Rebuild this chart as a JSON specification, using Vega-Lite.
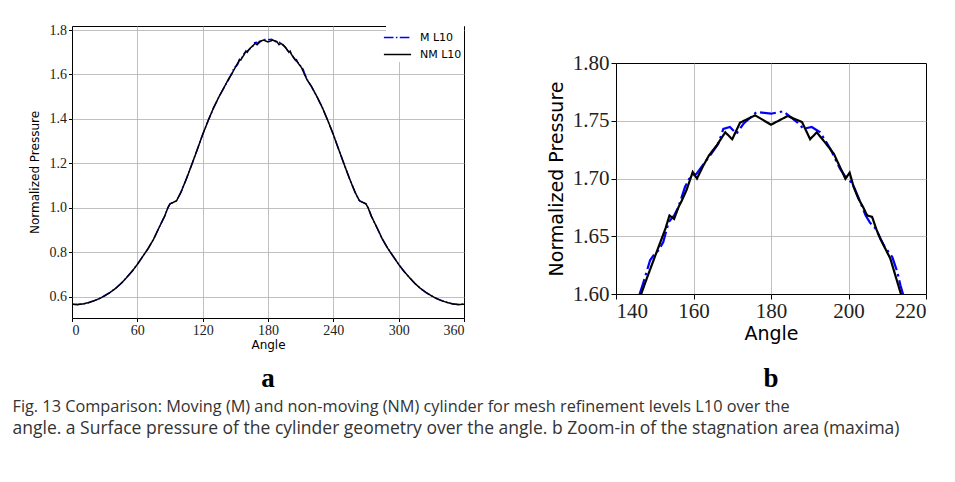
{
  "$schema": "https://vega.github.io/schema/vega-lite/v6.json",
  "background": "white",
  "padding": {"left": 12, "top": 22, "right": 0, "bottom": 0},
  "datasets": {
    "curves": [
      {"a": 0, "p": 0.567, "s": "M L10"}, {"a": 5, "p": 0.566, "s": "M L10"}, {"a": 10, "p": 0.568, "s": "M L10"}, {"a": 15, "p": 0.574, "s": "M L10"}, {"a": 20, "p": 0.582, "s": "M L10"}, {"a": 25, "p": 0.592, "s": "M L10"}, {"a": 30, "p": 0.605, "s": "M L10"}, {"a": 35, "p": 0.62, "s": "M L10"}, {"a": 40, "p": 0.638, "s": "M L10"}, {"a": 45, "p": 0.66, "s": "M L10"}, {"a": 50, "p": 0.686, "s": "M L10"}, {"a": 55, "p": 0.714, "s": "M L10"}, {"a": 60, "p": 0.746, "s": "M L10"}, {"a": 65, "p": 0.782, "s": "M L10"}, {"a": 70, "p": 0.818, "s": "M L10"}, {"a": 75, "p": 0.86, "s": "M L10"}, {"a": 80, "p": 0.912, "s": "M L10"}, {"a": 85, "p": 0.962, "s": "M L10"}, {"a": 88, "p": 1.0, "s": "M L10"}, {"a": 90, "p": 1.018, "s": "M L10"}, {"a": 93, "p": 1.025, "s": "M L10"}, {"a": 96, "p": 1.032, "s": "M L10"}, {"a": 100, "p": 1.07, "s": "M L10"}, {"a": 105, "p": 1.13, "s": "M L10"}, {"a": 110, "p": 1.195, "s": "M L10"}, {"a": 115, "p": 1.262, "s": "M L10"}, {"a": 120, "p": 1.33, "s": "M L10"}, {"a": 125, "p": 1.392, "s": "M L10"}, {"a": 130, "p": 1.45, "s": "M L10"}, {"a": 135, "p": 1.5, "s": "M L10"}, {"a": 140, "p": 1.545, "s": "M L10"}, {"a": 144, "p": 1.578, "s": "M L10"},
      {"a": 147.1, "p": 1.6104, "s": "M L10"}, {"a": 148.8, "p": 1.6292, "s": "M L10"}, {"a": 150, "p": 1.635, "s": "M L10"}, {"a": 151, "p": 1.6378, "s": "M L10"}, {"a": 152.2, "p": 1.645, "s": "M L10"}, {"a": 153.6, "p": 1.6623, "s": "M L10"}, {"a": 155, "p": 1.668, "s": "M L10"}, {"a": 156.1, "p": 1.6753, "s": "M L10"}, {"a": 157.8, "p": 1.6926, "s": "M L10"}, {"a": 158.9, "p": 1.6998, "s": "M L10"}, {"a": 160.8, "p": 1.7042, "s": "M L10"}, {"a": 162.5, "p": 1.712, "s": "M L10"}, {"a": 164.5, "p": 1.721, "s": "M L10"}, {"a": 166.4, "p": 1.73, "s": "M L10"}, {"a": 167.7, "p": 1.743, "s": "M L10"}, {"a": 169.4, "p": 1.7446, "s": "M L10"}, {"a": 171.1, "p": 1.7388, "s": "M L10"}, {"a": 172.9, "p": 1.7474, "s": "M L10"}, {"a": 176.3, "p": 1.7576, "s": "M L10"}, {"a": 180, "p": 1.7561, "s": "M L10"}, {"a": 183.2, "p": 1.7582, "s": "M L10"}, {"a": 186.7, "p": 1.7489, "s": "M L10"}, {"a": 188.4, "p": 1.743, "s": "M L10"}, {"a": 190.5, "p": 1.7446, "s": "M L10"}, {"a": 192.7, "p": 1.74, "s": "M L10"}, {"a": 195.3, "p": 1.7258, "s": "M L10"}, {"a": 197.8, "p": 1.7085, "s": "M L10"}, {"a": 199.6, "p": 1.6998, "s": "M L10"}, {"a": 201, "p": 1.696, "s": "M L10"}, {"a": 202.5, "p": 1.684, "s": "M L10"}, {"a": 204.4, "p": 1.6681, "s": "M L10"}, {"a": 205.5, "p": 1.662, "s": "M L10"}, {"a": 207, "p": 1.6565, "s": "M L10"}, {"a": 209.1, "p": 1.6422, "s": "M L10"}, {"a": 211.3, "p": 1.632, "s": "M L10"}, {"a": 212.6, "p": 1.619, "s": "M L10"}, {"a": 213.4, "p": 1.6075, "s": "M L10"},
      {"a": 216, "p": 1.578, "s": "M L10"}, {"a": 220, "p": 1.545, "s": "M L10"}, {"a": 225, "p": 1.5, "s": "M L10"}, {"a": 230, "p": 1.45, "s": "M L10"}, {"a": 235, "p": 1.392, "s": "M L10"}, {"a": 240, "p": 1.33, "s": "M L10"}, {"a": 245, "p": 1.262, "s": "M L10"}, {"a": 250, "p": 1.195, "s": "M L10"}, {"a": 255, "p": 1.13, "s": "M L10"}, {"a": 260, "p": 1.07, "s": "M L10"}, {"a": 264, "p": 1.032, "s": "M L10"}, {"a": 267, "p": 1.025, "s": "M L10"}, {"a": 270, "p": 1.018, "s": "M L10"}, {"a": 272, "p": 1.0, "s": "M L10"}, {"a": 275, "p": 0.962, "s": "M L10"}, {"a": 280, "p": 0.912, "s": "M L10"}, {"a": 285, "p": 0.86, "s": "M L10"}, {"a": 290, "p": 0.818, "s": "M L10"}, {"a": 295, "p": 0.782, "s": "M L10"}, {"a": 300, "p": 0.746, "s": "M L10"}, {"a": 305, "p": 0.714, "s": "M L10"}, {"a": 310, "p": 0.686, "s": "M L10"}, {"a": 315, "p": 0.66, "s": "M L10"}, {"a": 320, "p": 0.638, "s": "M L10"}, {"a": 325, "p": 0.62, "s": "M L10"}, {"a": 330, "p": 0.605, "s": "M L10"}, {"a": 335, "p": 0.592, "s": "M L10"}, {"a": 340, "p": 0.582, "s": "M L10"}, {"a": 345, "p": 0.574, "s": "M L10"}, {"a": 350, "p": 0.568, "s": "M L10"}, {"a": 355, "p": 0.566, "s": "M L10"}, {"a": 360, "p": 0.567, "s": "M L10"},
      {"a": 0, "p": 0.567, "s": "NM L10"}, {"a": 5, "p": 0.565, "s": "NM L10"}, {"a": 10, "p": 0.568, "s": "NM L10"}, {"a": 15, "p": 0.574, "s": "NM L10"}, {"a": 20, "p": 0.582, "s": "NM L10"}, {"a": 25, "p": 0.592, "s": "NM L10"}, {"a": 30, "p": 0.605, "s": "NM L10"}, {"a": 35, "p": 0.62, "s": "NM L10"}, {"a": 40, "p": 0.638, "s": "NM L10"}, {"a": 45, "p": 0.66, "s": "NM L10"}, {"a": 50, "p": 0.686, "s": "NM L10"}, {"a": 55, "p": 0.714, "s": "NM L10"}, {"a": 60, "p": 0.746, "s": "NM L10"}, {"a": 65, "p": 0.782, "s": "NM L10"}, {"a": 70, "p": 0.818, "s": "NM L10"}, {"a": 75, "p": 0.86, "s": "NM L10"}, {"a": 80, "p": 0.912, "s": "NM L10"}, {"a": 85, "p": 0.962, "s": "NM L10"}, {"a": 88, "p": 1.0, "s": "NM L10"}, {"a": 90, "p": 1.018, "s": "NM L10"}, {"a": 93, "p": 1.025, "s": "NM L10"}, {"a": 96, "p": 1.032, "s": "NM L10"}, {"a": 100, "p": 1.07, "s": "NM L10"}, {"a": 105, "p": 1.13, "s": "NM L10"}, {"a": 110, "p": 1.195, "s": "NM L10"}, {"a": 115, "p": 1.262, "s": "NM L10"}, {"a": 120, "p": 1.33, "s": "NM L10"}, {"a": 125, "p": 1.392, "s": "NM L10"}, {"a": 130, "p": 1.45, "s": "NM L10"}, {"a": 135, "p": 1.5, "s": "NM L10"}, {"a": 140, "p": 1.545, "s": "NM L10"}, {"a": 144, "p": 1.582, "s": "NM L10"},
      {"a": 146.5, "p": 1.6, "s": "NM L10"}, {"a": 148, "p": 1.614, "s": "NM L10"}, {"a": 150, "p": 1.632, "s": "NM L10"}, {"a": 151.8, "p": 1.648, "s": "NM L10"}, {"a": 152.8, "p": 1.657, "s": "NM L10"}, {"a": 153.8, "p": 1.668, "s": "NM L10"}, {"a": 155, "p": 1.665, "s": "NM L10"}, {"a": 156.1, "p": 1.675, "s": "NM L10"}, {"a": 157, "p": 1.681, "s": "NM L10"}, {"a": 158.2, "p": 1.69, "s": "NM L10"}, {"a": 159.8, "p": 1.7056, "s": "NM L10"}, {"a": 160.9, "p": 1.7, "s": "NM L10"}, {"a": 162.5, "p": 1.711, "s": "NM L10"}, {"a": 164, "p": 1.72, "s": "NM L10"}, {"a": 166, "p": 1.7287, "s": "NM L10"}, {"a": 168.2, "p": 1.74, "s": "NM L10"}, {"a": 170, "p": 1.734, "s": "NM L10"}, {"a": 172, "p": 1.7483, "s": "NM L10"}, {"a": 175.9, "p": 1.7547, "s": "NM L10"}, {"a": 180, "p": 1.7466, "s": "NM L10"}, {"a": 184.3, "p": 1.7541, "s": "NM L10"}, {"a": 188, "p": 1.7489, "s": "NM L10"}, {"a": 190.1, "p": 1.734, "s": "NM L10"}, {"a": 191.8, "p": 1.74, "s": "NM L10"}, {"a": 194, "p": 1.731, "s": "NM L10"}, {"a": 196.2, "p": 1.7215, "s": "NM L10"}, {"a": 199.2, "p": 1.6998, "s": "NM L10"}, {"a": 200.3, "p": 1.705, "s": "NM L10"}, {"a": 201.3, "p": 1.693, "s": "NM L10"}, {"a": 202.5, "p": 1.683, "s": "NM L10"}, {"a": 203.8, "p": 1.675, "s": "NM L10"}, {"a": 204.8, "p": 1.6681, "s": "NM L10"}, {"a": 206.1, "p": 1.6667, "s": "NM L10"}, {"a": 207.2, "p": 1.656, "s": "NM L10"}, {"a": 208.2, "p": 1.6479, "s": "NM L10"}, {"a": 210.8, "p": 1.6306, "s": "NM L10"}, {"a": 213.5, "p": 1.6003, "s": "NM L10"},
      {"a": 216, "p": 1.575, "s": "NM L10"}, {"a": 220, "p": 1.545, "s": "NM L10"}, {"a": 225, "p": 1.5, "s": "NM L10"}, {"a": 230, "p": 1.45, "s": "NM L10"}, {"a": 235, "p": 1.392, "s": "NM L10"}, {"a": 240, "p": 1.33, "s": "NM L10"}, {"a": 245, "p": 1.262, "s": "NM L10"}, {"a": 250, "p": 1.195, "s": "NM L10"}, {"a": 255, "p": 1.13, "s": "NM L10"}, {"a": 260, "p": 1.07, "s": "NM L10"}, {"a": 264, "p": 1.032, "s": "NM L10"}, {"a": 267, "p": 1.025, "s": "NM L10"}, {"a": 270, "p": 1.018, "s": "NM L10"}, {"a": 272, "p": 1.0, "s": "NM L10"}, {"a": 275, "p": 0.962, "s": "NM L10"}, {"a": 280, "p": 0.912, "s": "NM L10"}, {"a": 285, "p": 0.86, "s": "NM L10"}, {"a": 290, "p": 0.818, "s": "NM L10"}, {"a": 295, "p": 0.782, "s": "NM L10"}, {"a": 300, "p": 0.746, "s": "NM L10"}, {"a": 305, "p": 0.714, "s": "NM L10"}, {"a": 310, "p": 0.686, "s": "NM L10"}, {"a": 315, "p": 0.66, "s": "NM L10"}, {"a": 320, "p": 0.638, "s": "NM L10"}, {"a": 325, "p": 0.62, "s": "NM L10"}, {"a": 330, "p": 0.605, "s": "NM L10"}, {"a": 335, "p": 0.592, "s": "NM L10"}, {"a": 340, "p": 0.582, "s": "NM L10"}, {"a": 345, "p": 0.574, "s": "NM L10"}, {"a": 350, "p": 0.568, "s": "NM L10"}, {"a": 355, "p": 0.565, "s": "NM L10"}, {"a": 360, "p": 0.567, "s": "NM L10"}
    ]
  },
  "title": {
    "text": "Fig. 13   Comparison: Moving (M) and non-moving (NM) cylinder for mesh refinement levels L10 over the",
    "subtitle": "angle. a Surface pressure of the cylinder geometry over the angle. b Zoom-in of the stagnation area (maxima)",
    "orient": "bottom",
    "anchor": "start",
    "frame": "bounds",
    "offset": 6,
    "dx": -15,
    "font": "Open Sans",
    "fontSize": 16.3,
    "fontWeight": "normal",
    "color": "#333333",
    "subtitleFont": "Open Sans",
    "subtitleFontSize": 17.5,
    "subtitleColor": "#333333",
    "subtitlePadding": 5
  },
  "hconcat": [
    {
      "width": 392,
      "height": 292,
      "data": {"name": "curves"},
      "mark": {"type": "line", "strokeWidth": 1.5, "clip": true},
      "encoding": {
        "x": {"field": "a", "type": "quantitative", "scale": {"domain": [0, 360], "nice": false, "zero": false},
              "axis": {"values": [0, 60, 120, 180, 240, 300, 360], "title": "Angle", "labelFontSize": 14, "titleFontSize": 12, "tickSize": 3.5, "labelPadding": 2, "titlePadding": 2,
                       "gridOpacity": {"condition": {"test": "datum.value <= 0 || datum.value >= 360", "value": 0}, "value": 1}}},
        "y": {"field": "p", "type": "quantitative", "scale": {"domain": [0.505, 1.818], "nice": false, "zero": false},
              "axis": {"values": [0.6, 0.8, 1.0, 1.2, 1.4, 1.6, 1.8], "format": ".1f", "title": "Normalized Pressure", "labelFontSize": 14, "titleFontSize": 12, "tickSize": 3.5, "labelPadding": 2, "titlePadding": 8}},
        "color": {"field": "s", "type": "nominal", "scale": {"domain": ["M L10", "NM L10"], "range": ["#0000ff", "#000000"]},
                  "legend": {"orient": "top-right", "offset": 0, "title": null, "fillColor": "white", "padding": 2, "labelFont": "DejaVu Sans", "labelFontSize": 11, "labelColor": "#000", "symbolType": "M-1.6,0H1.6", "symbolSize": 289, "symbolStrokeWidth": 1.5, "labelOffset": 13, "rowPadding": 2}},
        "strokeDash": {"field": "s", "type": "nominal", "scale": {"domain": ["M L10", "NM L10"], "range": [[9.6, 2.4, 1.5, 2.4], [1, 0]]},
                  "legend": {"orient": "top-right", "offset": 0, "title": null, "fillColor": "white", "padding": 2, "labelFont": "DejaVu Sans", "labelFontSize": 11, "labelColor": "#000", "symbolType": "M-1.6,0H1.6", "symbolSize": 289, "symbolStrokeWidth": 1.5, "labelOffset": 13, "rowPadding": 2}}
      },
      "title": {"text": "a", "orient": "bottom", "font": "Liberation Serif", "fontSize": 27, "fontWeight": "bold", "color": "#000", "offset": 15}
    },
    {
      "spacing": 20,
      "vconcat": [
        {
          "width": 310,
          "height": 5,
          "data": {"values": []},
          "mark": {"type": "text"},
          "encoding": {},
          "view": {"stroke": null}
        },
        {
          "width": 310,
          "height": 231,
          "data": {"name": "curves"},
          "mark": {"type": "line", "strokeWidth": 2.2, "clip": true},
          "encoding": {
            "x": {"field": "a", "type": "quantitative", "scale": {"domain": [140, 220], "nice": false, "zero": false},
                  "axis": {"values": [140, 160, 180, 200, 220], "title": "Angle", "labelFontSize": 21, "titleFontSize": 19, "tickSize": 5, "labelPadding": 1, "titlePadding": 3,
                           "gridOpacity": {"condition": {"test": "datum.value <= 140 || datum.value >= 220", "value": 0}, "value": 1}}},
            "y": {"field": "p", "type": "quantitative", "scale": {"domain": [1.6, 1.8], "nice": false, "zero": false},
                  "axis": {"values": [1.6, 1.65, 1.7, 1.75, 1.8], "format": ".2f", "title": "Normalized Pressure", "labelFontSize": 21, "titleFontSize": 19, "tickSize": 5, "labelPadding": 2, "titlePadding": 6,
                           "gridOpacity": {"condition": {"test": "datum.value <= 1.6 || datum.value >= 1.8", "value": 0}, "value": 1}}},
            "color": {"field": "s", "type": "nominal", "scale": {"domain": ["M L10", "NM L10"], "range": ["#0000ff", "#000000"]}, "legend": null},
            "strokeDash": {"field": "s", "type": "nominal", "scale": {"domain": ["M L10", "NM L10"], "range": [[16, 4, 2.5, 4], [1, 0]]}, "legend": null}
          },
          "title": {"text": "b", "orient": "bottom", "font": "Liberation Serif", "fontSize": 27, "fontWeight": "bold", "color": "#000", "offset": 23}
        }
      ]
    }
  ],
  "spacing": 81,
  "resolve": {"scale": {"x": "independent", "y": "independent", "color": "independent", "strokeDash": "independent"}, "legend": {"color": "independent", "strokeDash": "independent"}},
  "config": {
    "view": {"stroke": "#000000", "strokeWidth": 1},
    "axis": {"domain": false, "tickColor": "#000000", "tickWidth": 1, "gridColor": "#b0b0b0", "gridWidth": 0.8, "labelFont": "Liberation Serif", "labelColor": "#222222", "titleFont": "DejaVu Sans", "titleFontWeight": "normal", "titleColor": "#000000"}
  }
}
